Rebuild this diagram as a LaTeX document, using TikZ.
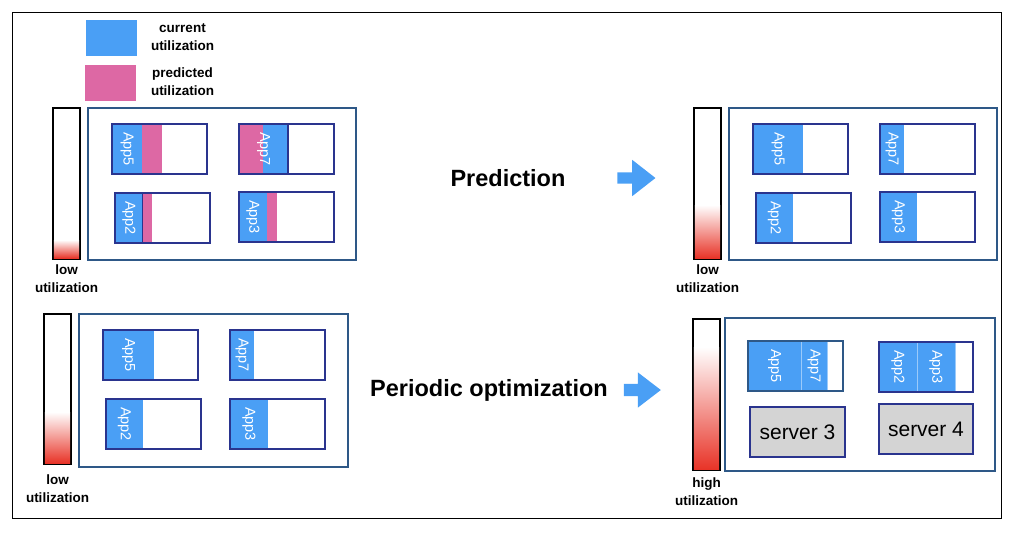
\documentclass[tikz,border=0pt]{standalone}
\usepackage{fontspec}
\setmainfont{Liberation Sans}
\usetikzlibrary{positioning}
\usetikzlibrary{shapes.arrows}
\definecolor{curblue}{RGB}{74,159,245}
\definecolor{predpink}{RGB}{221,104,164}
\definecolor{hostline}{RGB}{46,88,135}
\definecolor{srvline}{RGB}{42,52,142}
\definecolor{lvlred}{RGB}{232,52,40}
\definecolor{srvgray}{RGB}{212,212,212}

\begin{document}
\begin{tikzpicture}[x=1pt,y=-1pt,
  every node/.style={inner sep=0pt,outer sep=0pt},
  meter/.style={draw=black,line width=1.8pt,minimum width=27pt,minimum height=151pt,anchor=north west},
  level/.style={top color=white,bottom color=lvlred},
  host/.style={draw=hostline,line width=1.3pt,minimum width=268pt,minimum height=152pt,anchor=north west},
  srv/.style={draw=srvline,line width=1.3pt,minimum width=95pt,minimum height=50pt,anchor=north west},
  cur/.style={fill=curblue,minimum width=#1,minimum height=50pt,anchor=north west},
  pred/.style={fill=predpink,minimum width=#1,minimum height=50pt,anchor=north west},
  app/.style={text=white,rotate=-90,font=\fontsize{14.5}{14.5}\selectfont},
  caption/.style={align=center,font=\bfseries\fontsize{13.5}{18}\selectfont},
  title/.style={font=\bfseries\fontsize{23.5}{28}\selectfont},
  go/.style={single arrow,fill=curblue,single arrow head indent=0pt}
]
\useasboundingbox (0,0) rectangle (1010,533);
\node[draw,line width=1pt,minimum width=989pt,minimum height=506pt,anchor=north west] (frame) at (12,12) {};

% legend
\node[fill=curblue,minimum width=51pt,minimum height=36pt,anchor=north west] (keycur) at (86,20) {};
\node[caption,right=14pt of keycur,yshift=1pt] (keycurtxt) {current\\utilization};
\node[fill=predpink,minimum width=51pt,minimum height=36pt,anchor=north west] (keypred) at (85,65) {};
\node[caption,right=15pt of keypred,yshift=1pt] (keypredtxt) {predicted\\utilization};

% before prediction
\node[meter] (bar1) at (53,108) {};
\shade[level] ([shift={(0.9pt,0.9pt)}]bar1.south west) rectangle ([shift={(-0.9pt,19pt)}]bar1.south east);
\node[caption,below=6pt of bar1] (cap1) {low\\utilization};
\node[host] (host1) at (88,108) {};
\node[cur=30pt] (c1a5) at (112,124) {};
\node[pred=20pt,right=0pt of c1a5] (f1a5) {};
\node[srv] (s1a5) at (112,124) {};
\node[app] (t1a5) at (c1a5) {App5};
\node[pred=24pt] (f1a7) at (239,124) {};
\node[cur=25pt,right=0pt of f1a7] (c1a7) {};
\node[srv] (s1a7) at (239,124) {};
\node[srv,minimum width=49pt] (o1a7) at (239,124) {};
\node[app] (t1a7) at (o1a7) {App7};
\node[cur=28pt,draw=srvline,line width=1.3pt] (c1a2) at (115,193) {};
\node[pred=9pt,right=0pt of c1a2] (f1a2) {};
\node[srv] (s1a2) at (115,193) {};
\node[app] (t1a2) at (c1a2) {App2};
\node[cur=28pt] (c1a3) at (239,192) {};
\node[pred=10pt,right=0pt of c1a3] (f1a3) {};
\node[srv] (s1a3) at (239,192) {};
\node[app] (t1a3) at (c1a3) {App3};

\node[title] (predtitle) at (508,178) {Prediction};
\node[go,minimum height=38pt,inner sep=5.5pt,single arrow head extend=12.5pt,single arrow tip angle=76,right=52pt of predtitle] (arr1) {};

% after prediction
\node[meter] (bar2) at (694,108) {};
\shade[level] ([shift={(0.9pt,0.9pt)}]bar2.south west) rectangle ([shift={(-0.9pt,54pt)}]bar2.south east);
\node[caption,below=6pt of bar2] (cap2) {low\\utilization};
\node[host] (host2) at (729,108) {};
\node[cur=50pt] (c2a5) at (753,124) {};
\node[srv] (s2a5) at (753,124) {};
\node[app] (t2a5) at (c2a5) {App5};
\node[cur=24pt] (c2a7) at (880,124) {};
\node[srv] (s2a7) at (880,124) {};
\node[app] (t2a7) at (c2a7) {App7};
\node[cur=37pt] (c2a2) at (756,193) {};
\node[srv] (s2a2) at (756,193) {};
\node[app] (t2a2) at (c2a2) {App2};
\node[cur=37pt] (c2a3) at (880,192) {};
\node[srv] (s2a3) at (880,192) {};
\node[app] (t2a3) at (c2a3) {App3};

% before optimization
\node[meter,minimum height=150pt] (bar3) at (44,314) {};
\shade[level] ([shift={(0.9pt,0.9pt)}]bar3.south west) rectangle ([shift={(-0.9pt,52pt)}]bar3.south east);
\node[caption,below=11pt of bar3] (cap3) {low\\utilization};
\node[host,minimum width=269pt,minimum height=153pt] (host3) at (79,314) {};
\node[cur=51pt] (c3a5) at (103,330) {};
\node[srv] (s3a5) at (103,330) {};
\node[app] (t3a5) at (c3a5) {App5};
\node[cur=24pt] (c3a7) at (230,330) {};
\node[srv] (s3a7) at (230,330) {};
\node[app] (t3a7) at (c3a7) {App7};
\node[cur=37pt] (c3a2) at (106,399) {};
\node[srv] (s3a2) at (106,399) {};
\node[app] (t3a2) at (c3a2) {App2};
\node[cur=38pt] (c3a3) at (230,399) {};
\node[srv] (s3a3) at (230,399) {};
\node[app] (t3a3) at (c3a3) {App3};

\node[title] (opttitle) at (489,390) {Periodic optimization};
\node[go,minimum height=37pt,inner sep=6pt,single arrow head extend=11.5pt,single arrow tip angle=75,right=16pt of opttitle] (arr2) {};

% after optimization
\node[meter] (bar4) at (693,319) {};
\shade[level] ([shift={(0.9pt,0.9pt)}]bar4.south west) rectangle ([shift={(-0.9pt,123pt)}]bar4.south east);
\node[caption,below=8pt of bar4] (cap4) {high\\utilization};
\node[host,minimum width=270pt,minimum height=153pt] (host4) at (725,318) {};
\node[cur=53pt] (c4a5) at (748,341) {};
\node[cur=26pt,draw=curblue!55!white,line width=0.8pt,right=0pt of c4a5] (c4a7) {};
\node[srv,draw=hostline] (s4a57) at (748,341) {};
\node[app] (t4a5) at (c4a5) {App5};
\node[app] (t4a7) at (c4a7) {App7};
\node[cur=38pt] (c4a2) at (879,342) {};
\node[cur=38pt,draw=curblue!55!white,line width=0.8pt,right=0pt of c4a2] (c4a3) {};
\node[srv,minimum width=94pt] (s4a23) at (879,342) {};
\node[app] (t4a2) at (c4a2) {App2};
\node[app] (t4a3) at (c4a3) {App3};
\node[srv,fill=srvgray] (srv3) at (750,407) {};
\node[font=\fontsize{21}{21}\selectfont] (srv3txt) at (srv3) {server 3};
\node[srv,fill=srvgray,minimum width=94pt] (srv4) at (879,404) {};
\node[font=\fontsize{21}{21}\selectfont] (srv4txt) at (srv4) {server 4};
\end{tikzpicture}
\end{document}
